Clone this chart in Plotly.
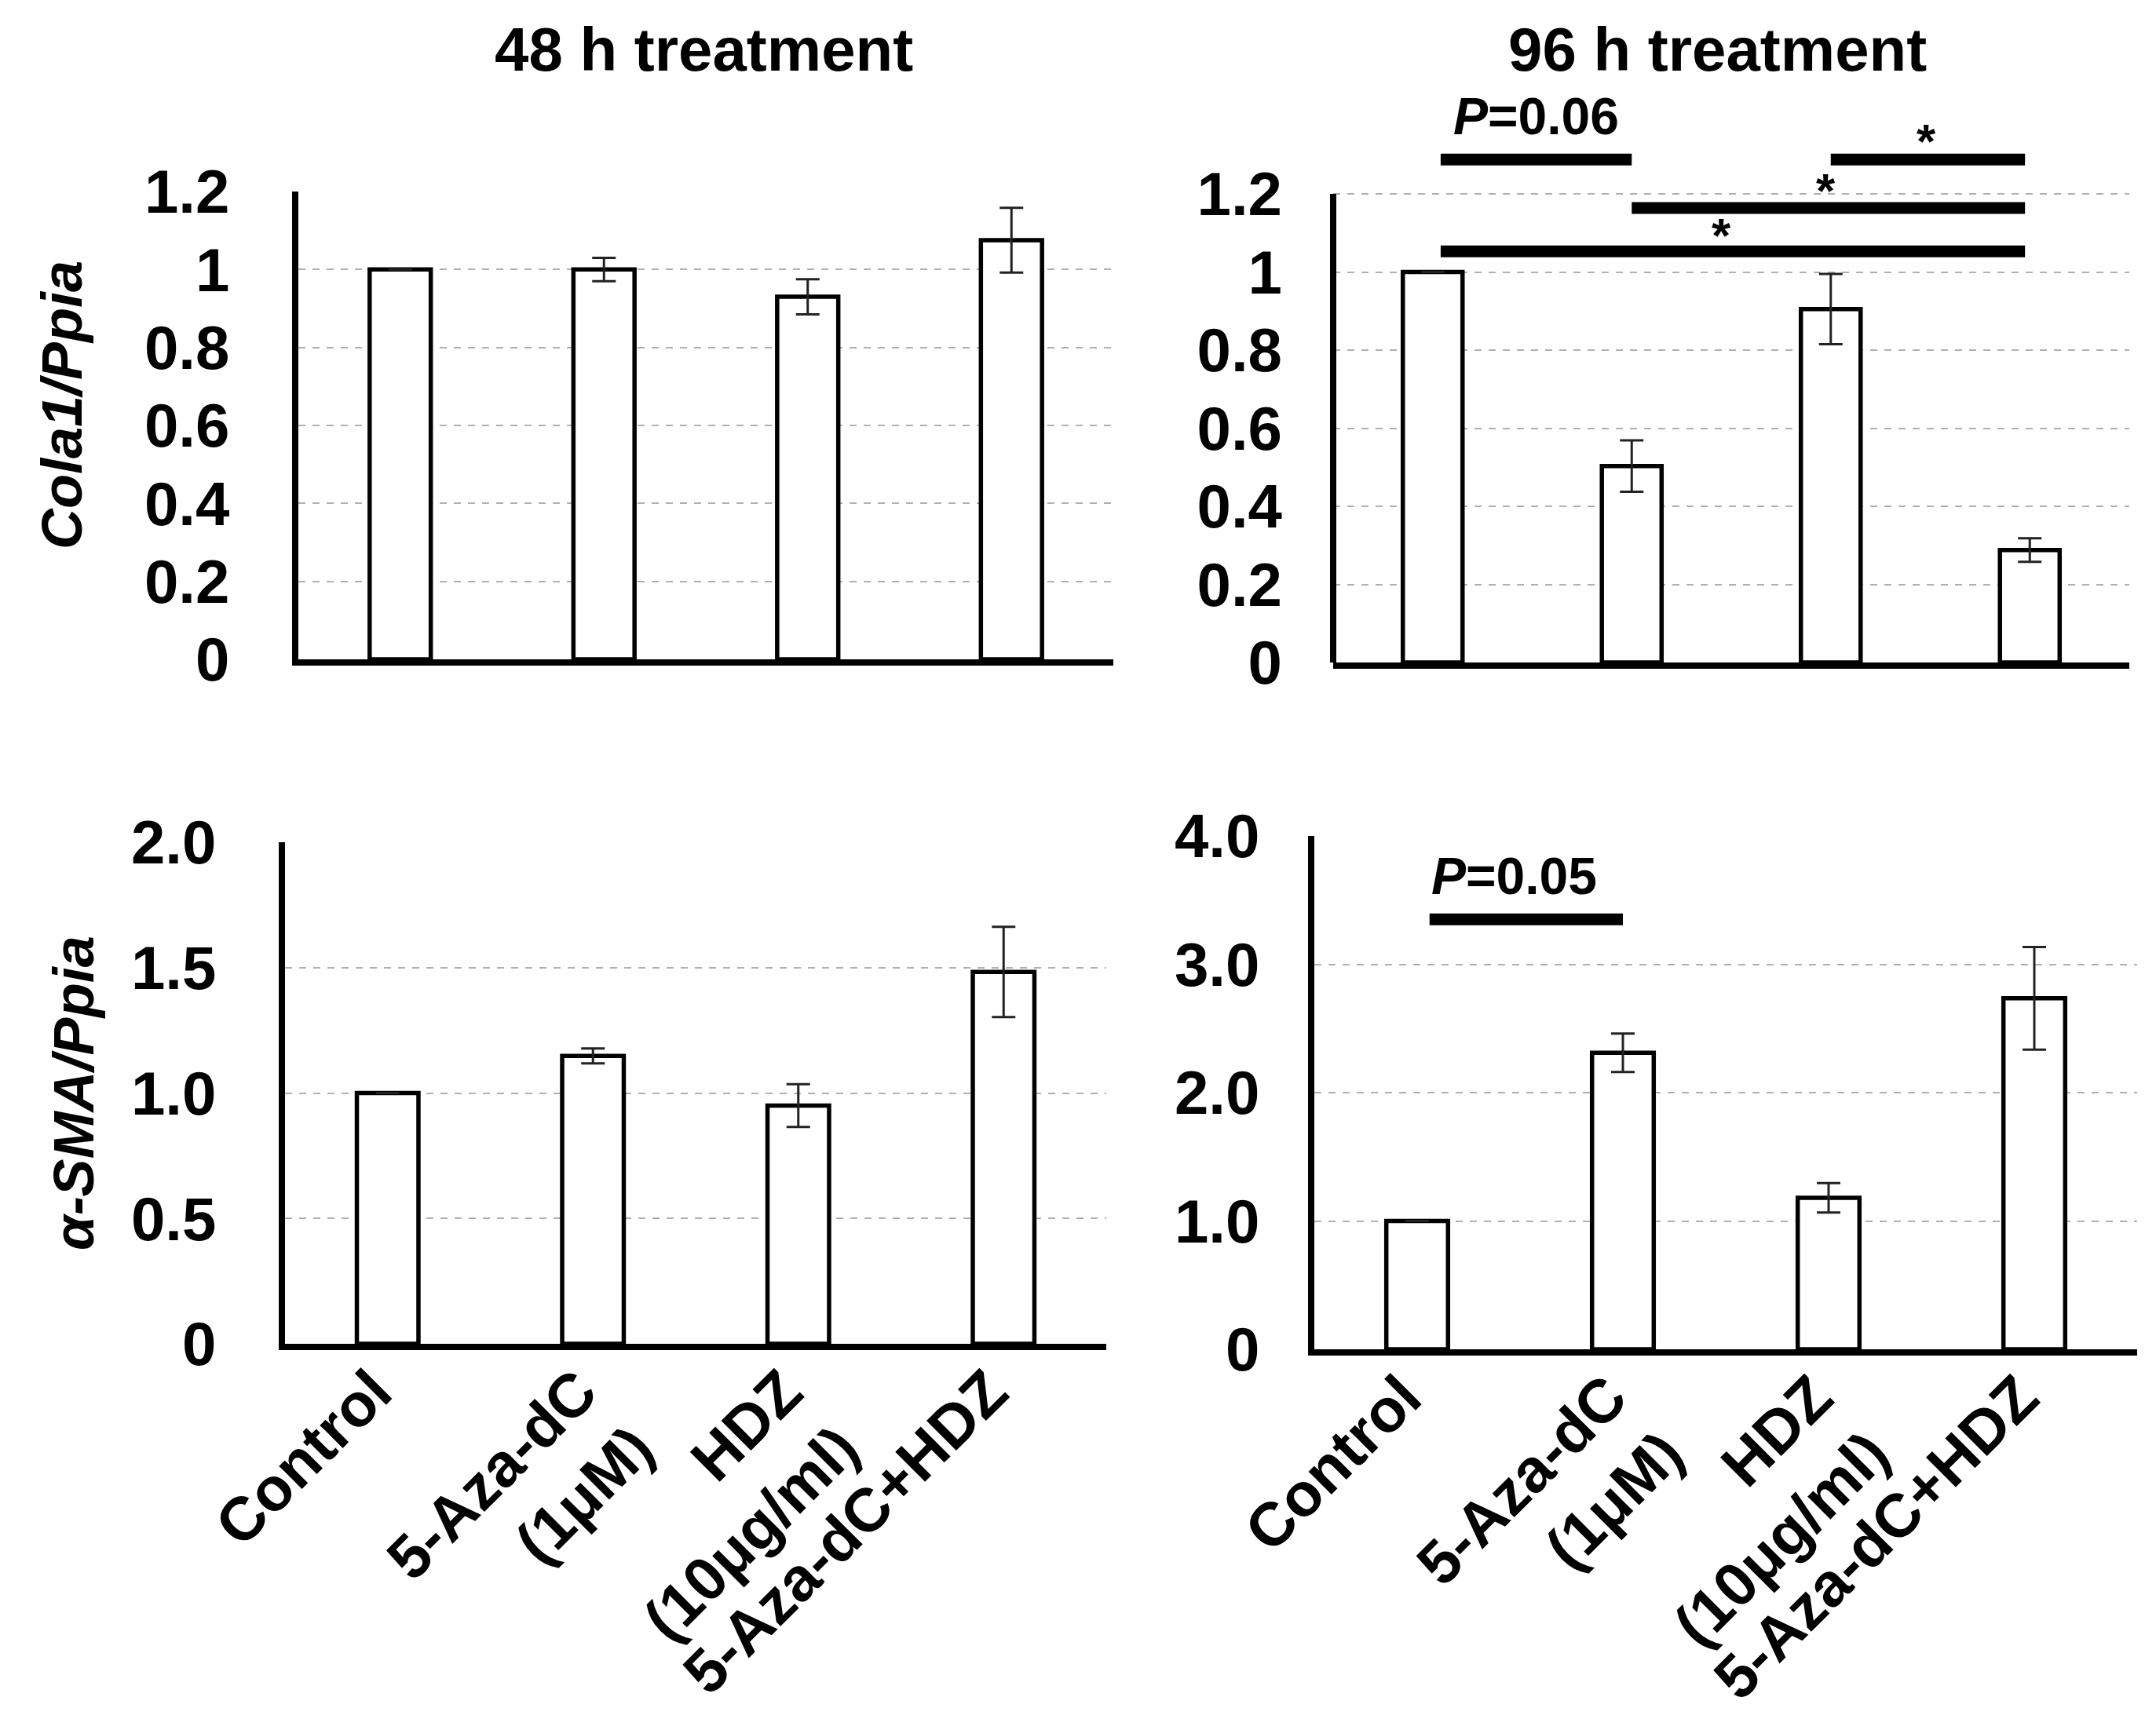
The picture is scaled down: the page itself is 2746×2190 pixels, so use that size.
import plotly.graph_objects as go

# ---------------- data ----------------
categories = ["Control", "5-Aza-dC (1μM)", "HDZ (10μg/ml)", "5-Aza-dC+HDZ"]
x_tick_labels = ["Control", "5-Aza-dC<br>(1μM)", "HDZ<br>(10μg/ml)", "5-Aza-dC+HDZ"]

cola1_48h = [1.0, 1.0, 0.93, 1.075]
cola1_48h_err = [0.0, 0.03, 0.045, 0.083]
cola1_96h = [1.0, 0.503, 0.905, 0.288]
cola1_96h_err = [0.0, 0.066, 0.09, 0.03]
sma_48h = [1.0, 1.148, 0.95, 1.483]
sma_48h_err = [0.0, 0.03, 0.085, 0.18]
sma_96h = [1.0, 2.31, 1.18, 2.735]
sma_96h_err = [0.0, 0.15, 0.115, 0.4]

cola1_tickvals = [0, 0.2, 0.4, 0.6, 0.8, 1.0, 1.2]
cola1_ticktext = ["0", "0.2", "0.4", "0.6", "0.8", "1", "1.2"]
sma48_tickvals = [0, 0.5, 1.0, 1.5, 2.0]
sma48_ticktext = ["0", "0.5", "1.0", "1.5", "2.0"]
sma96_tickvals = [0, 1, 2, 3, 4]
sma96_ticktext = ["0", "1.0", "2.0", "3.0", "4.0"]

panel_titles = ["48 h treatment", "96 h treatment"]
y_titles = ["Cola1/Ppia", "α-SMA/Ppia"]

# significance brackets: (x_start, x_end, y, label, label_x, label_y)
sig_cola1_96h = [
    (0.04, 1.0, 1.288, "<i>P</i>=0.06", 0.52, 1.40),
    (2.0, 2.976, 1.288, "*", 2.48, 1.335),
    (1.0, 2.976, 1.164, "*", 1.976, 1.21),
    (0.04, 2.976, 1.053, "*", 1.45, 1.095),
]
sig_sma_96h = [
    (0.06, 1.0, 3.35, "<i>P</i>=0.05", 0.47, 3.69),
]

# ---------------- layout helpers (pixel geometry) ----------------
W, H = 2746, 2190
FONT = "Liberation Sans, Arial, sans-serif"


def px_x(a, b):
    return [a / W, b / W]


def px_y(top, bottom):
    return [1 - bottom / H, 1 - top / H]


fig = go.Figure()

panels = [
    dict(vals=cola1_48h, err=cola1_48h_err, xa="x", ya="y"),
    dict(vals=cola1_96h, err=cola1_96h_err, xa="x2", ya="y2"),
    dict(vals=sma_48h, err=sma_48h_err, xa="x3", ya="y3"),
    dict(vals=sma_96h, err=sma_96h_err, xa="x4", ya="y4"),
]
for p in panels:
    fig.add_trace(go.Bar(
        x=categories, y=p["vals"], xaxis=p["xa"], yaxis=p["ya"],
        width=0.3,
        marker=dict(color="white", line=dict(color="black", width=5.5)),
        error_y=dict(type="data", array=p["err"], visible=True,
                     color="#222222", thickness=3, width=15),
        hoverinfo="skip",
    ))

grid = dict(showgrid=True, gridcolor="#b0b0b0", gridwidth=2, griddash="dash")
tickfont = dict(family=FONT, size=78, color="black", weight="bold")


def xaxis(domain, anchor, labels):
    return dict(domain=domain, anchor=anchor, type="category",
                categoryorder="array", categoryarray=categories,
                range=[-0.5, 3.5], showline=True, linewidth=8, linecolor="black",
                ticks="", showgrid=False, zeroline=False, automargin=False,
                tickvals=categories, ticktext=x_tick_labels,
                showticklabels=labels, tickangle=-45, tickfont=tickfont,
                ticklabelstandoff=-24, ticklabelshift=-18)


def yaxis(domain, anchor, rng, tv, tt, showline=True, standoff=64):
    d = dict(domain=domain, anchor=anchor, range=rng, tickmode="array",
             tickvals=tv, ticktext=tt, showline=showline, linewidth=8,
             linecolor="black", ticks="", zeroline=False, tickfont=tickfont,
             ticklabelstandoff=standoff, automargin=False)
    d.update(grid)
    return d


# top-right y range extended above 1.2 to hold significance bars and text
TR_MAX = 1.5
tr_top_px = 836 - TR_MAX * (836 - 239) / 1.2

fig.update_layout(
    width=W, height=H, margin=dict(l=0, r=0, t=0, b=0, autoexpand=False),
    paper_bgcolor="white", plot_bgcolor="white", showlegend=False,
    xaxis=xaxis(px_x(372, 1410), "y", False),
    yaxis=yaxis(px_y(236, 832), "x", [0, 1.2], cola1_tickvals, cola1_ticktext),
    xaxis2=xaxis(px_x(1690, 2704), "y2", False),
    yaxis2=yaxis(px_y(tr_top_px, 836), "x2", [0, TR_MAX], cola1_tickvals,
                 cola1_ticktext, showline=False),
    xaxis3=xaxis(px_x(355, 1401), "y3", True),
    yaxis3=yaxis(px_y(1065, 1704), "x3", [0, 2.0], sma48_tickvals, sma48_ticktext),
    xaxis4=xaxis(px_x(1666, 2714), "y4", True),
    yaxis4=yaxis(px_y(1057, 1711), "x4", [0, 4.0], sma96_tickvals, sma96_ticktext,
                 standoff=46),
)

shapes = []
annotations = []

# y axis line for top-right panel (only up to 1.2)
shapes.append(dict(type="line", xref="x2 domain", yref="y2", x0=0, x1=0,
                   y0=0, y1=cola1_tickvals[-1],
                   line=dict(color="black", width=8)))

for sig, xr, yr in [(sig_cola1_96h, "x2", "y2"), (sig_sma_96h, "x4", "y4")]:
    for x0, x1, yv, label, lx, ly in sig:
        shapes.append(dict(type="line", xref=xr, yref=yr, x0=x0, x1=x1,
                           y0=yv, y1=yv, line=dict(color="black", width=15)))
        size = 66 if label != "*" else 62
        annotations.append(dict(xref=xr, yref=yr, x=lx, y=ly, text=label,
                                showarrow=False, xanchor="center", yanchor="middle",
                                font=dict(family=FONT, size=size, color="black",
                                          weight="bold")))

# panel titles
for title, cx in zip(panel_titles, [889, 2179]):
    annotations.append(dict(xref="paper", yref="paper", x=cx / W, y=1 - 55 / H,
                            text=title, showarrow=False, xanchor="center",
                            yanchor="middle",
                            font=dict(family=FONT, size=78, color="black",
                                      weight="bold")))

# y-axis titles
for title, (cx, cy) in zip(y_titles, [(71, 508), (86, 1385)]):
    annotations.append(dict(xref="paper", yref="paper", x=cx / W, y=1 - cy / H,
                            text="<i>" + title + "</i>", showarrow=False,
                            textangle=-90, xanchor="center", yanchor="middle",
                            font=dict(family=FONT, size=72, color="black",
                                      weight="bold")))

fig.update_layout(shapes=shapes, annotations=annotations)
fig.write_html("out.html")
